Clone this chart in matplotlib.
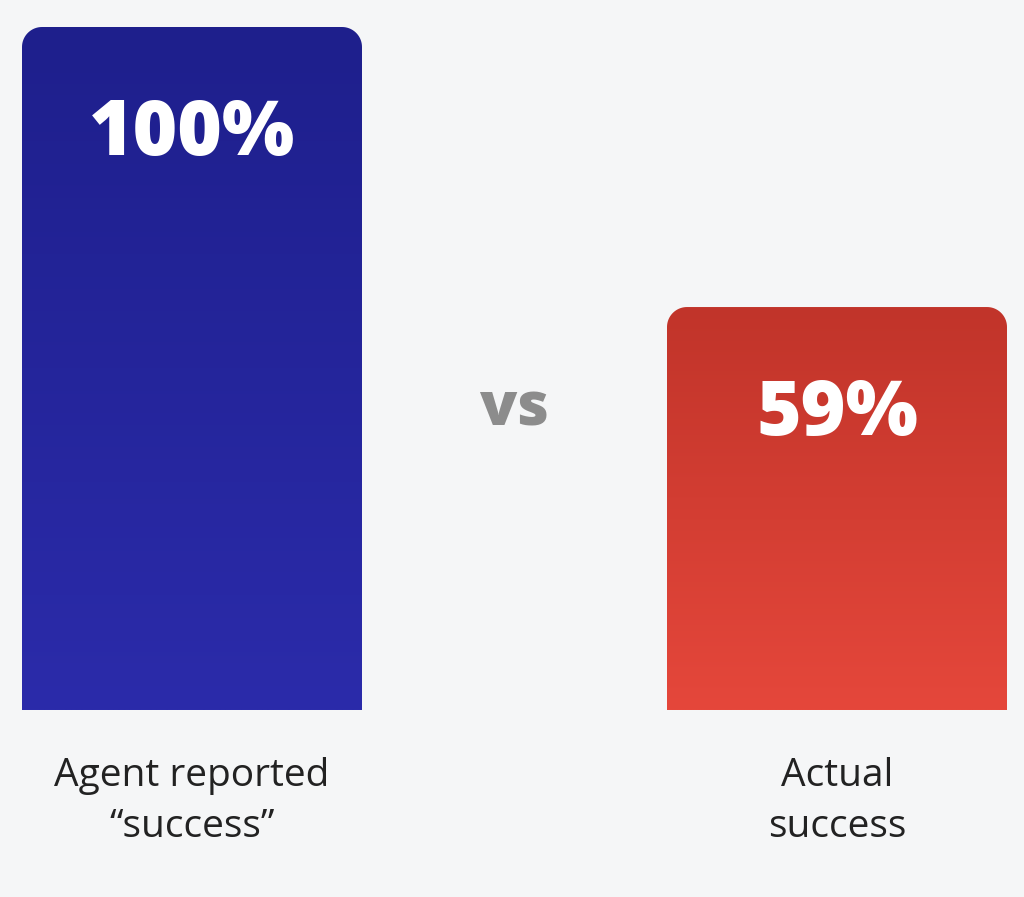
import numpy as np
import matplotlib
matplotlib.use("Agg")
import matplotlib.pyplot as plt
from matplotlib.path import Path
from matplotlib.patches import PathPatch
from matplotlib.colors import LinearSegmentedColormap

categories = ["Agent reported\n\u201csuccess\u201d", "Actual\nsuccess"]
values = [100, 59]
value_labels = ["100%", "59%"]
separator = "vs"

top_colors = ["#1e1f8c", "#c1342a"]
bottom_colors = ["#2b2baa", "#e5473b"]
BG = "#f5f6f7"

W, H, DPI = 1024, 897, 100
fig = plt.figure(figsize=(W / DPI, H / DPI), dpi=DPI, facecolor=BG)
ax = fig.add_axes([0, 0, 1, 1])
ax.set_facecolor(BG)
ax.axis("off")

# scale: 100 units = 683 px, zero at 187 px from bottom; x: centers 192 & 837 px
px_per_y = 683 / 100
px_per_x = 645
ax.set_xlim(-192 / px_per_x, 1 + (W - 837) / px_per_x)
ax.set_ylim(-187 / px_per_y, (H - 187) / px_per_y)

xs = np.arange(len(values))
bars = ax.bar(xs, values, width=340 / px_per_x, color="none", edgecolor="none")

r_px = 20
rx, ry = r_px / px_per_x, r_px / px_per_y


def rounded_top_path(x0, w, h):
    x1 = x0 + w
    verts = [(x0, 0), (x1, 0)]
    t = np.linspace(0, np.pi / 2, 20)
    for a in t:  # top-right corner
        verts.append((x1 - rx + rx * np.cos(a), h - ry + ry * np.sin(a)))
    for a in t:  # top-left corner
        verts.append((x0 + rx - rx * np.sin(a), h - ry + ry * np.cos(a)))
    verts.append((x0, 0))
    codes = [Path.MOVETO] + [Path.LINETO] * (len(verts) - 2) + [Path.CLOSEPOLY]
    return Path(verts, codes)


for i, rect in enumerate(bars):
    x0, w, h = rect.get_x(), rect.get_width(), rect.get_height()
    xc = x0 + w / 2
    patch = PathPatch(rounded_top_path(x0, w, h), facecolor="none", edgecolor="none")
    ax.add_patch(patch)
    cmap = LinearSegmentedColormap.from_list("g", [bottom_colors[i], top_colors[i]])
    grad = np.linspace(0, 1, 256).reshape(-1, 1)
    im = ax.imshow(grad, cmap=cmap, origin="lower", aspect="auto",
                   extent=[x0, x0 + w, 0, h], zorder=2, interpolation="bilinear")
    im.set_clip_path(patch)
    ax.annotate(value_labels[i], xy=(xc, h), xytext=(0, -92),
                textcoords="offset points", ha="center", va="baseline",
                color="white", fontsize=55, fontweight="heavy",
                family="Open Sans", zorder=3)
    ax.annotate(categories[i], xy=(xc, 0), xytext=(0, -34),
                textcoords="offset points", ha="center", va="top",
                color="#222222", fontsize=28, family="Open Sans",
                linespacing=1.45, zorder=3)

ax.annotate(separator, xy=(xs.mean(), 0), xytext=(0, 205),
            textcoords="offset points", ha="center", va="baseline",
            color="#8c8c8c", fontsize=44, fontweight="heavy",
            family="Open Sans", zorder=3)

fig.savefig("out.png", dpi=DPI, facecolor=BG)
